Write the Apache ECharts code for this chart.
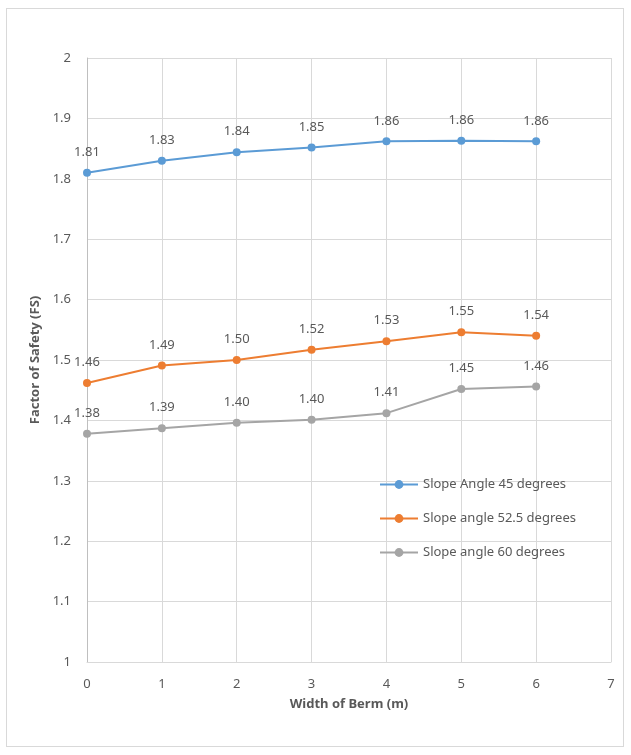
<!DOCTYPE html>
<html><head><meta charset="utf-8">
<script src="https://cdn.jsdelivr.net/npm/echarts@6/dist/echarts.min.js"></script>
<style>
html,body{margin:0;padding:0;background:#fff;}
#frame{position:absolute;left:6px;top:8px;width:618px;height:739px;border:1px solid #d9d9d9;box-sizing:border-box;}
#c{position:absolute;left:0;top:0;width:631px;height:755px;}
</style></head>
<body><div id="frame"></div><div id="c"></div>
<script>
const widths = [0, 1, 2, 3, 4, 5, 6];
const seriesNames = ['Slope Angle 45 degrees', 'Slope angle 52.5 degrees', 'Slope angle 60 degrees'];
const fs45 = [1.810, 1.830, 1.844, 1.852, 1.862, 1.863, 1.862];
const fs525 = [1.462, 1.491, 1.500, 1.517, 1.531, 1.546, 1.540];
const fs60 = [1.378, 1.387, 1.396, 1.401, 1.412, 1.452, 1.456];
const colors = ['#5b9bd5', '#ed7d31', '#a5a5a5'];
const font = 'Noto Sans, sans-serif';

const chart = echarts.init(document.getElementById('c'));
function mk(name, vals, color){
  return {
    name: name, type: 'line',
    data: widths.map((w,i)=>[w, vals[i]]),
    symbol: 'circle', symbolSize: 8,
    lineStyle: {color: color, width: 2},
    itemStyle: {color: color},
    label: {show: true, position: 'top', distance: 10, color: '#595959', fontSize: 13, fontFamily: font,
      formatter: p => p.value[1].toFixed(2)}
  };
}
chart.setOption({
  animation: false,
  grid: {left: 87, right: 20, top: 58, bottom: 93},
  legend: {
    orient: 'vertical', left: 374, top: 473, itemGap: 21, itemWidth: 38, itemHeight: 11,
    data: seriesNames,
    textStyle: {color: '#595959', fontSize: 13, fontFamily: font}
  },
  xAxis: {
    type: 'value', min: 0, max: 7, interval: 1,
    name: 'Width of Berm (m)', nameLocation: 'middle', nameGap: 36,
    nameTextStyle: {color: '#595959', fontSize: 13, fontWeight: 'bold', fontFamily: font},
    axisLine: {show: true, lineStyle: {color: '#d9d9d9'}},
    axisTick: {show: false},
    axisLabel: {color: '#595959', fontSize: 13, fontFamily: font, margin: 16},
    splitLine: {show: true, lineStyle: {color: '#d9d9d9'}}
  },
  yAxis: {
    type: 'value', min: 1, max: 2, interval: 0.1,
    name: 'Factor of Safety (FS)', nameLocation: 'middle', nameGap: 44,
    nameTextStyle: {color: '#595959', fontSize: 13, fontWeight: 'bold', fontFamily: font},
    axisLine: {show: true, lineStyle: {color: '#bfbfbf'}},
    axisTick: {show: false},
    axisLabel: {color: '#595959', fontSize: 13, fontFamily: font, margin: 16},
    splitLine: {show: true, lineStyle: {color: '#d9d9d9'}}
  },
  series: [mk(seriesNames[0], fs45, colors[0]), mk(seriesNames[1], fs525, colors[1]), mk(seriesNames[2], fs60, colors[2])]
});
</script></body></html>
